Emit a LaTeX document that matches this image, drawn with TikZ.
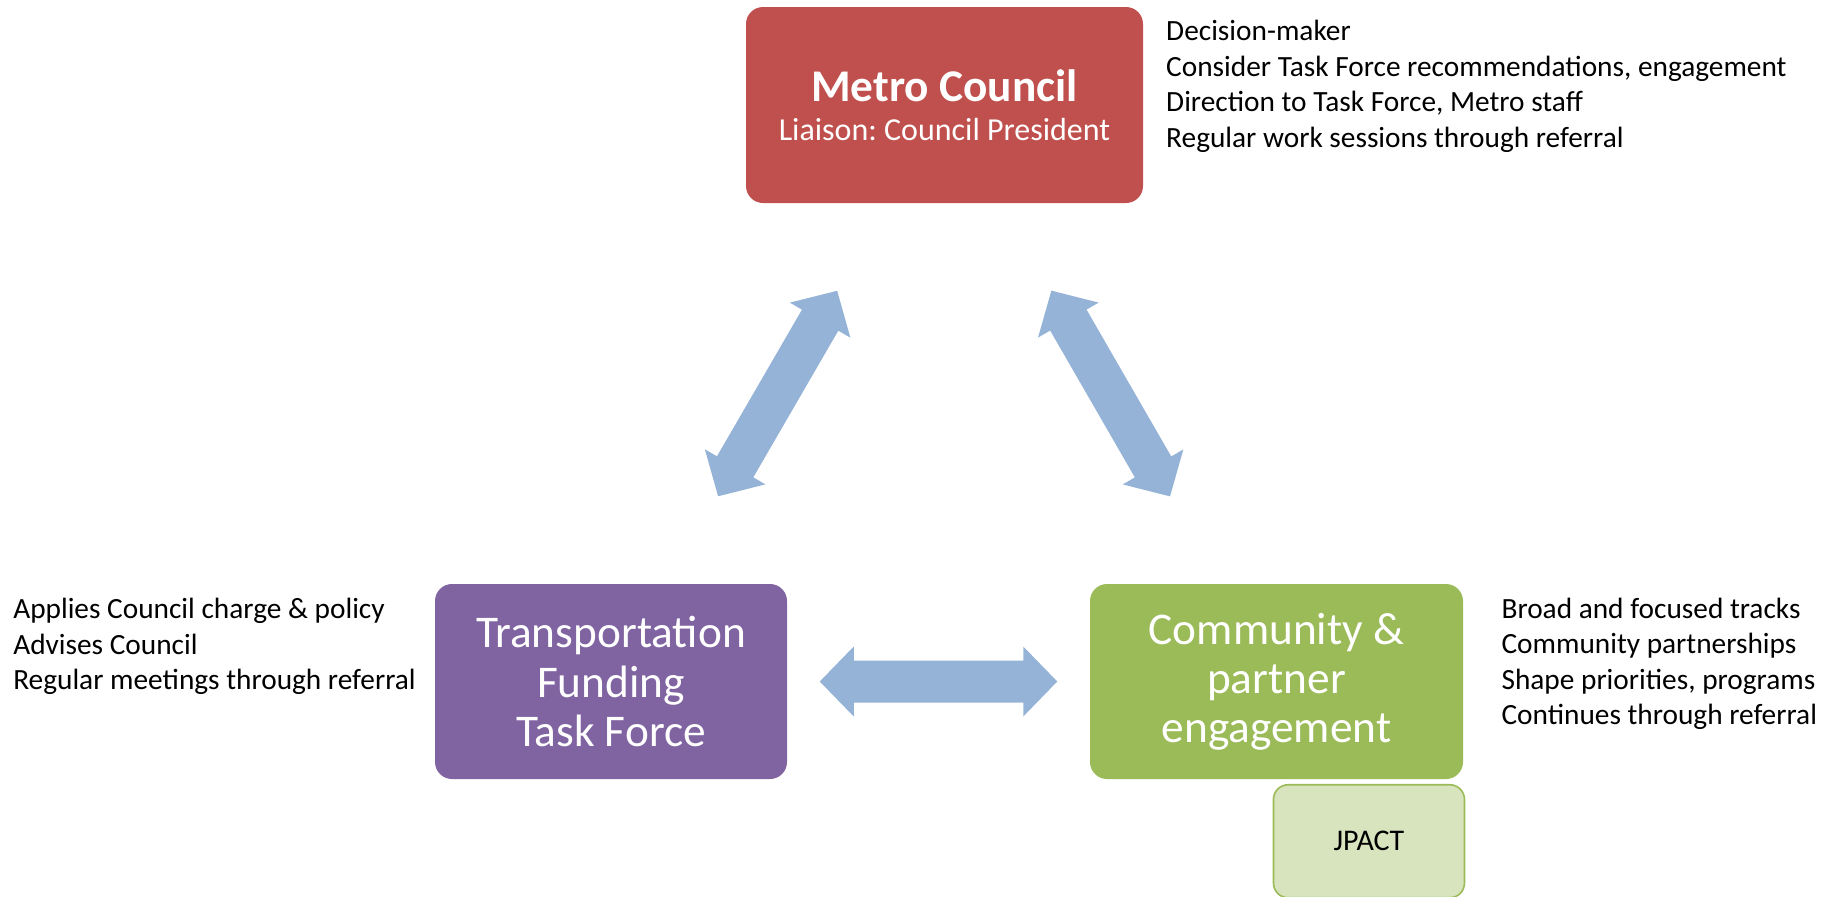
\documentclass[tikz,border=0pt]{standalone}
\usepackage{fontspec}
\setmainfont{Carlito}
\usetikzlibrary{positioning}
\frenchspacing

\definecolor{councilred}{HTML}{C0504D}
\definecolor{forcepurple}{HTML}{8064A2}
\definecolor{partnergreen}{HTML}{9BBB59}
\definecolor{jpactgreen}{HTML}{D7E4BD}
\definecolor{linkblue}{HTML}{95B3D7}

\tikzset{
  box/.style={rounded corners=12.75pt, text=white, align=center, inner sep=0pt},
  notes/.style={align=left, inner sep=0pt, anchor=north west, font=\fontsize{22}{26.6}\selectfont},
  pics/link/.style={code={
    \fill[linkblue] (-118.75,0) -- (-84.75,35) -- (-84.75,21) -- (84.75,21) -- (84.75,35)
      -- (118.75,0) -- (84.75,-35) -- (84.75,-21) -- (-84.75,-21) -- (-84.75,-35) -- cycle;}}
}

\begin{document}
\begin{tikzpicture}[x=0.75pt, y=-0.75pt]
\useasboundingbox (0,0) rectangle (1837,896);

% the three bodies
\node[box, fill=councilred, minimum width=297.75pt, minimum height=147pt,
  font=\fontsize{24}{29.5}\selectfont] (metro) at (944.5,105)
  {{\fontsize{34}{29.5}\selectfont\bfseries Metro Council}\\Liaison: Council President};
\node[box, fill=forcepurple, minimum width=264pt, minimum height=146.25pt,
  font=\fontsize{34}{36.8}\selectfont] (tf) at (611,681.5)
  {Transportation\\Funding\\Task Force};
\node[box, fill=partnergreen, minimum width=279.75pt, minimum height=146.25pt,
  font=\fontsize{34}{36.8}\selectfont] (cpe) at (1276.5,681.5)
  {Community \&\\partner\\engagement};
\node[draw=partnergreen, fill=jpactgreen, line width=1.2pt, rounded corners=11pt,
  minimum width=143.25pt, minimum height=84.75pt, font=\fontsize{22.5}{26}\selectfont,
  below=3.5pt of cpe.south east, anchor=north east, xshift=1.5pt] (jpact) {JPACT};

% roles
\node[notes, right=17pt of metro.north east, anchor=north west, yshift=-10pt] (metronotes)
  {Decision-maker\\Consider Task Force recommendations, engagement\\Direction to Task Force, Metro staff\\Regular work sessions through referral};
\node[notes] (tfnotes) at (13,598)
  {Applies Council charge \& policy\\Advises Council\\Regular meetings through referral};
\node[notes, right=28.5pt of cpe.north east, anchor=north west, yshift=-10.5pt] (cpenotes)
  {Broad and focused tracks\\Community partnerships\\Shape priorities, programs\\Continues through referral};

% two-way links
\path (tf) -- (metro) pic[midway, sloped] {link};
\path (metro) -- (cpe) pic[midway, sloped] {link};
\path (tf) -- (cpe) pic[midway, sloped] {link};

\end{tikzpicture}
\end{document}
